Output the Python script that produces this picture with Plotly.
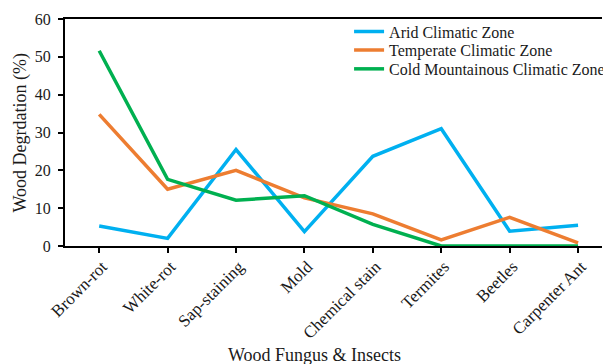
import plotly.graph_objects as go

categories = ["Brown-rot", "White-rot", "Sap-staining", "Mold", "Chemical stain",
              "Termites", "Beetles", "Carpenter Ant"]
arid = [5.3, 2.0, 25.5, 3.8, 23.7, 31.0, 3.9, 5.5]
temperate = [34.8, 15.0, 20.0, 12.7, 8.5, 1.6, 7.6, 0.8]
cold = [51.6, 17.6, 12.1, 13.3, 5.7, 0.0, 0.0, 0.0]
series_names = ["Arid Climatic Zone", "Temperate Climatic Zone", "Cold Mountainous Climatic Zone"]
colors = ["#00B0F0", "#ED7D31", "#00B050"]
legend_ids = ["legend", "legend2", "legend3"]
legend_y = [0.944, 0.863, 0.780]

FONT = "Liberation Serif, Times New Roman, serif"
TXT = "#1a1a1a"

fig = go.Figure()
for name, vals, col, lg in zip(series_names, [arid, temperate, cold], colors, legend_ids):
    fig.add_trace(go.Scatter(x=list(range(len(categories))), y=vals, mode="lines", name=name,
                             line=dict(color=col, width=3.5), legend=lg))

leg_common = dict(x=0.529, xanchor="left", yanchor="middle", bgcolor="rgba(0,0,0,0)",
                  font=dict(family=FONT, size=16, color=TXT), itemwidth=30)

fig.update_layout(
    width=603, height=356,
    margin=dict(l=57, r=1, t=11, b=118),
    paper_bgcolor="white", plot_bgcolor="white",
    font=dict(family=FONT, size=16, color=TXT),
    showlegend=True,
    legend=dict(y=legend_y[0], **leg_common),
    legend2=dict(y=legend_y[1], **leg_common),
    legend3=dict(y=legend_y[2], **leg_common),
    xaxis=dict(
        tickmode="array", tickvals=list(range(len(categories))), ticktext=categories,
        range=[-0.5, 7.35], tickangle=-45, showgrid=False, zeroline=False,
        showline=True, linecolor="black", linewidth=2, mirror=True,
        ticks="outside", ticklen=5, tickcolor="black", tickwidth=1.5,
        tickfont=dict(size=17, color=TXT), automargin=False,
        ticklabelstandoff=-3, ticklabelshift=3,
    ),
    yaxis=dict(
        range=[0, 60], dtick=10, showgrid=False, zeroline=False,
        showline=True, linecolor="black", linewidth=2,
        ticks="outside", ticklen=5, tickcolor="black", tickwidth=1.5,
        tickfont=dict(size=16, color=TXT), ticklabelstandoff=4, automargin=False,
    ),
    annotations=[
        dict(text="Wood Fungus & Insects", xref="paper", yref="paper", x=0.465, y=-0.48,
             xanchor="center", yanchor="middle", showarrow=False,
             font=dict(family=FONT, size=18, color=TXT)),
        dict(text="Wood Degrdation (%)", xref="paper", yref="paper", x=-0.083, y=0.502,
             xanchor="center", yanchor="middle", showarrow=False, textangle=-90,
             font=dict(family=FONT, size=18, color=TXT)),
    ],
)

fig.write_html("out.html")
